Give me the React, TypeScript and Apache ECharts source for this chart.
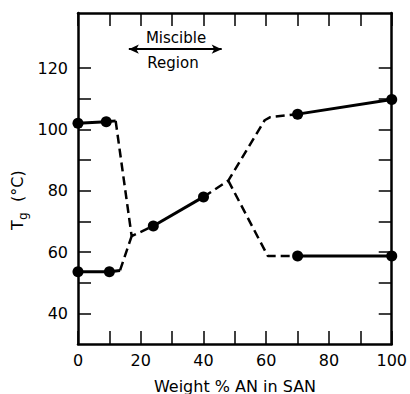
import React, { useEffect, useRef } from "react";
import * as echarts from "echarts";

// Solid segments with measured points (marker shown unless flagged)
const upperLeft: [number, number][] = [[0, 102], [9, 102.5]];
const upperLeftEnd: [number, number] = [12, 102.8];
const lowerLeft: [number, number][] = [[0, 53.6], [10, 53.6]];
const lowerLeftEnd: [number, number] = [13.4, 54];
const middle: [number, number][] = [[24, 68.5], [40, 78]];
const upperRight: [number, number][] = [[70, 105], [100, 109.8]];
const lowerRight: [number, number][] = [[70, 58.7], [100, 58.7]];

// Dashed (interpolated) curves
const dashA: [number, number][] = [[12, 102.8], [17.1, 65.2], [24, 68.5]];
const dashB: [number, number][] = [[13.4, 54], [17.1, 65.2]];
const dashC: [number, number][] = [[40, 78], [47.9, 83.3], [59.5, 103], [61.3, 104], [70, 105]];
const dashD: [number, number][] = [[47.9, 83.3], [60.5, 58.7], [70, 58.7]];

// Miscible-region arrow (x range at y level)
const arrowX: [number, number] = [16.2, 45.8];
const arrowY = 126.2;

const xTickLabels = [0, 20, 40, 60, 80, 100];
const yTickValues = [40, 50, 60, 70, 80, 90, 100, 110, 120];
const yTickLabels = [40, 60, 80, 100, 120];

const FONT = "DejaVu Sans";

export default function App() {
  const ref = useRef<HTMLDivElement>(null);
  useEffect(() => {
    if (!ref.current) return;
    const chart = echarts.init(ref.current, null, { renderer: "svg" });
    const solidStyle = { color: "#000", width: 3, type: "solid" as const };
    const dashStyle = { color: "#000", width: 2.5, type: [9, 5] as any };
    const solid = (pts: [number, number][], end?: [number, number]) => ({
      type: "line",
      data: [
        ...pts.map((p) => ({ value: p })),
        ...(end ? [{ value: end, symbol: "none" }] : []),
      ],
      symbol: "circle",
      symbolSize: 11,
      itemStyle: { color: "#000" },
      lineStyle: solidStyle,
      z: 3,
    });
    const dashed = (pts: [number, number][]) => ({
      type: "line",
      data: pts,
      symbol: "none",
      lineStyle: dashStyle,
      z: 2,
    });
    const tickStyle = { color: "#000", width: 1.5 };
    const axisLine = { show: true, onZero: false, lineStyle: { color: "#000", width: 2.5 } };
    const option: any = {
      animation: false,
      grid: { left: 78, right: 17, top: 13, bottom: 50 },
      xAxis: [
        {
          type: "value",
          min: 0,
          max: 100,
          interval: 10,
          position: "bottom",
          axisLine,
          axisTick: { show: true, inside: true, length: 13, lineStyle: tickStyle },
          splitLine: { show: false },
          axisLabel: {
            color: "#000",
            fontFamily: FONT,
            fontSize: 16,
            margin: 8,
            customValues: xTickLabels,
            formatter: (v: number) => (xTickLabels.includes(v) ? String(v) : ""),
          },
        },
        {
          type: "value",
          min: 0,
          max: 100,
          interval: 10,
          position: "top",
          axisLine,
          axisTick: { show: true, inside: true, length: 13, lineStyle: tickStyle },
          splitLine: { show: false },
          axisLabel: { show: false },
        },
      ],
      yAxis: [
        {
          type: "value",
          min: 30,
          max: 138,
          position: "left",
          axisLine,
          axisTick: { show: true, inside: true, length: 13, lineStyle: tickStyle, customValues: yTickValues },
          splitLine: { show: false },
          axisLabel: {
            color: "#000",
            fontFamily: FONT,
            fontSize: 16,
            margin: 10,
            customValues: yTickLabels,
          },
        },
        {
          type: "value",
          min: 30,
          max: 138,
          position: "right",
          axisLine,
          axisTick: { show: true, inside: true, length: 13, lineStyle: tickStyle, customValues: yTickValues },
          splitLine: { show: false },
          axisLabel: { show: false },
        },
      ],
      series: [
        solid(upperLeft, upperLeftEnd),
        solid(lowerLeft, lowerLeftEnd),
        solid(middle),
        solid(upperRight),
        solid(lowerRight),
        dashed(dashA),
        dashed(dashB),
        dashed(dashC),
        dashed(dashD),
        {
          type: "line",
          data: [],
          markLine: {
            silent: true,
            symbol: ["arrow", "arrow"],
            symbolSize: [7, 10],
            label: { show: false },
            lineStyle: { color: "#000", width: 2, type: "solid" },
            data: [[{ coord: [arrowX[0], arrowY] }, { coord: [arrowX[1], arrowY] }]],
          },
        },
      ],
      graphic: [
        {
          type: "text",
          x: 176,
          y: 38,
          style: { text: "Miscible", fontFamily: FONT, fontSize: 15, fill: "#000", align: "center", verticalAlign: "middle" },
        },
        {
          type: "text",
          x: 173,
          y: 63,
          style: { text: "Region", fontFamily: FONT, fontSize: 15, fill: "#000", align: "center", verticalAlign: "middle" },
        },
        {
          type: "text",
          x: 235,
          y: 386,
          style: { text: "Weight % AN in SAN", fontFamily: FONT, fontSize: 16, fill: "#000", align: "center", verticalAlign: "middle" },
        },
        {
          type: "group",
          x: 17,
          y: 230,
          rotation: Math.PI / 2,
          children: [
            { type: "text", x: 0, y: 0, style: { text: "T", fontFamily: FONT, fontSize: 16, fill: "#000", align: "left", verticalAlign: "middle" } },
            { type: "text", x: 10, y: 6, style: { text: "g", fontFamily: FONT, fontSize: 12, fill: "#000", align: "left", verticalAlign: "middle" } },
            { type: "text", x: 28, y: 0, style: { text: "(°C)", fontFamily: FONT, fontSize: 16, fill: "#000", align: "left", verticalAlign: "middle" } },
          ],
        },
      ],
    };
    chart.setOption(option);
    return () => chart.dispose();
  }, []);
  return (
    <div
      ref={ref}
      style={{ position: "fixed", left: 0, top: 0, width: 410, height: 394, background: "#fff" }}
    />
  );
}
